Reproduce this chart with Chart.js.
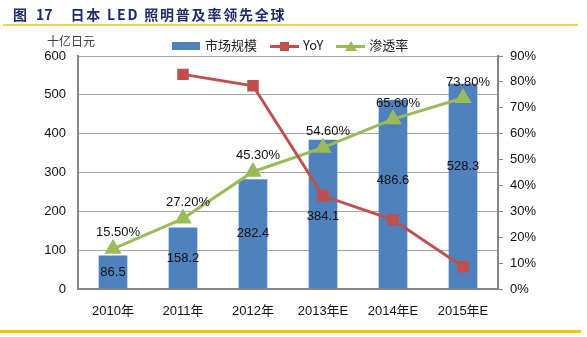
<!DOCTYPE html>
<html>
<head>
<meta charset="utf-8">
<script src="https://cdn.jsdelivr.net/npm/chart.js@4"></script>
<style>
    body { margin: 0; background: #fff; font-family: "Liberation Sans", "Noto Sans CJK SC", sans-serif; }
    #wrap { position: relative; width: 587px; height: 337px; overflow: hidden; }
    #chart { position: absolute; left: 0; top: 0; }
    .title { position: absolute; left: 13px; top: 4px; font-size: 14px; font-weight: bold; color: #1d2b6b; font-family: "Noto Sans CJK SC", sans-serif; white-space: nowrap; }
    .title .num { margin-left: 9px; }
    .title .sub { margin-left: 18px; letter-spacing: 1.8px; }
    .rule-top { position: absolute; left: 3px; top: 24px; width: 575px; height: 2px; background: #f2d24a; }
    .rule-bottom { position: absolute; left: 0; top: 330px; width: 581px; height: 3px; background: #f5c400; }
    .unit { position: absolute; left: 47px; top: 32px; font-size: 12px; color: #404040; font-family: "Noto Sans CJK SC", sans-serif; }
    .legend { position: absolute; top: 33px; left: 172px; height: 16px; font-size: 13px; color: #222; white-space: nowrap; font-family: "Noto Sans CJK SC", sans-serif; }
    .legend .item { display: inline-block; vertical-align: middle; margin-right: 10px; }
    .legend .sym { display: inline-block; vertical-align: middle; position: relative; width: 29px; height: 12px; margin-right: 4px; }
    .legend .box { position: absolute; left: 0; top: 2px; width: 28px; height: 8px; background: #4f81bd; }
    .legend .ln { position: absolute; left: 0; top: 5px; width: 29px; height: 3px; }
    .legend .sq { position: absolute; left: 10px; top: 2px; width: 9px; height: 9px; background: #c0504d; }
    .legend .tri { position: absolute; left: 9px; top: 1px; width: 0; height: 0; border-left: 6px solid transparent; border-right: 6px solid transparent; border-bottom: 10px solid #9bbb59; }
</style>
</head>
<body>
<div id="wrap">
    <canvas id="chart" width="587" height="337"></canvas>
    <div class="title">图<span class="num">17</span><span class="sub">日本 LED 照明普及率领先全球</span></div>
    <div class="rule-top"></div>
    <div class="unit">十亿日元</div>
    <div class="legend">
        <span class="item"><span class="sym"><span class="box"></span></span>市场规模</span>
        <span class="item"><span class="sym"><span class="ln" style="background:#c0504d"></span><span class="sq"></span></span>YoY</span>
        <span class="item"><span class="sym"><span class="ln" style="background:#9bbb59"></span><span class="tri"></span></span>渗透率</span>
    </div>
    <div class="rule-bottom"></div>
</div>
<script>
// 数据
const years = ['2010年', '2011年', '2012年', '2013年E', '2014年E', '2015年E'];
const marketSize = [86.5, 158.2, 282.4, 384.1, 486.6, 528.3];     // 十亿日元
const yoy = [null, 82.9, 78.5, 36.0, 26.7, 8.6];                  // %
const penetration = [15.5, 27.2, 45.3, 54.6, 65.6, 73.8];         // %

const FONT = '"Liberation Sans", "Noto Sans CJK SC", sans-serif';
const AXIS_GREY = '#868686';

// 柱内数值标签的上下微调（像素）
const barLabelShift = [0, 0, 0, 2, -14, -20];

/** 数值标签 */
const valueLabels = {
    id: 'valueLabels',
    afterDatasetsDraw(chart) {
        const ctx = chart.ctx;
        ctx.save();
        ctx.font = '13px ' + FONT;
        ctx.fillStyle = '#111';
        ctx.textAlign = 'center';
        ctx.textBaseline = 'middle';

        chart.getDatasetMeta(0).data.forEach((bar, i) => {
            const y = (bar.y + bar.base) / 2 + barLabelShift[i];
            ctx.fillText(marketSize[i].toFixed(1), bar.x, y);
        });

        chart.getDatasetMeta(2).data.forEach((pt, i) => {
            ctx.fillText(penetration[i].toFixed(2) + '%', pt.x + 5, pt.y - 16);
        });
        ctx.restore();
    }
};

new Chart(document.getElementById('chart'), {
    type: 'bar',
    data: {
        labels: years,
        datasets: [
            {
                label: '市场规模',
                data: marketSize,
                backgroundColor: '#4f81bd',
                yAxisID: 'y',
                order: 3,
                categoryPercentage: 1,
                barPercentage: 0.41
            },
            {
                type: 'line',
                label: 'YoY',
                data: yoy,
                borderColor: '#c0504d',
                backgroundColor: '#c0504d',
                borderWidth: 3,
                pointStyle: 'rect',
                pointRadius: 6,
                yAxisID: 'y1',
                order: 1
            },
            {
                type: 'line',
                label: '渗透率',
                data: penetration,
                borderColor: '#9bbb59',
                backgroundColor: '#9bbb59',
                borderWidth: 3,
                pointStyle: 'triangle',
                pointRadius: 7,
                yAxisID: 'y1',
                order: 2
            }
        ]
    },
    options: {
        responsive: false,
        animation: false,
        layout: { padding: { top: 56, left: 0, right: 0, bottom: 0 } },
        plugins: {
            legend: { display: false },
            tooltip: { enabled: false }
        },
        scales: {
            x: {
                grid: { display: false },
                border: { color: AXIS_GREY, width: 2 },
                ticks: { color: '#111', font: { family: FONT, size: 13 }, padding: 7 },
                afterFit(scale) { scale.height = 48; }
            },
            y: {
                position: 'left',
                min: 0,
                max: 600,
                ticks: { stepSize: 100, color: '#111', font: { family: FONT, size: 13 }, padding: 12 },
                grid: { color: '#a6a6a6', lineWidth: 1, drawTicks: false },
                border: { color: AXIS_GREY, width: 2 },
                afterFit(scale) { scale.width = 78; }
            },
            y1: {
                position: 'right',
                min: 0,
                max: 90,
                ticks: {
                    stepSize: 10,
                    color: '#111',
                    font: { family: FONT, size: 13 },
                    padding: 7,
                    callback: v => v + '%'
                },
                grid: { drawOnChartArea: false, color: AXIS_GREY, tickLength: 5 },
                border: { color: AXIS_GREY, width: 2 },
                afterFit(scale) { scale.width = 89; }
            }
        }
    },
    plugins: [valueLabels]
});
</script>
</body>
</html>
